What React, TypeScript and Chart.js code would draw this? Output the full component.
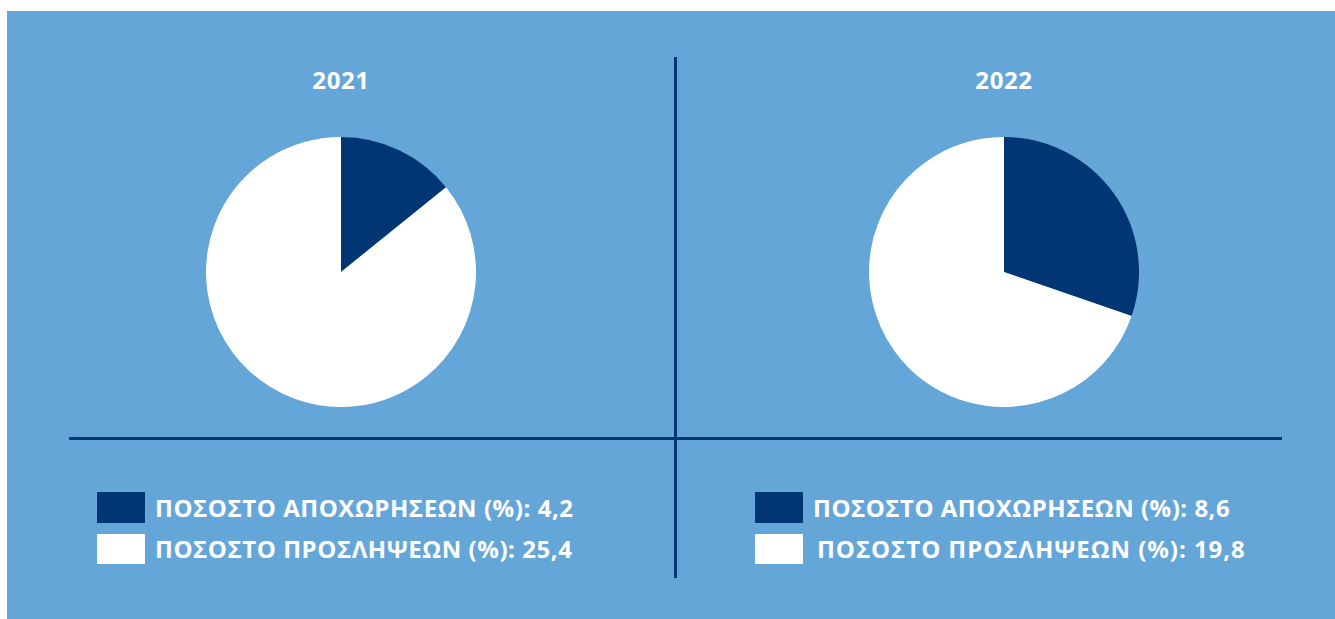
import React, { useEffect, useRef } from "react";
import { Chart, registerables } from "chart.js";

Chart.register(...registerables);

const years = ["2021", "2022"];
const categories = ["ΠΟΣΟΣΤΟ ΑΠΟΧΩΡΗΣΕΩΝ (%)", "ΠΟΣΟΣΤΟ ΠΡΟΣΛΗΨΕΩΝ (%)"];
const values2021 = [4.2, 25.4];
const values2022 = [8.6, 19.8];
const valueLabels2021 = ["4,2", "25,4"];
const valueLabels2022 = ["8,6", "19,8"];
const sliceColors = ["#003674", "#FFFFFF"];

const BG = "#65A6D9";
const NAVY = "#003674";
const FONT = "'Open Sans', 'DejaVu Sans', sans-serif";

function Pie({ values }: { values: number[] }) {
  const ref = useRef<HTMLCanvasElement | null>(null);
  useEffect(() => {
    if (!ref.current) return;
    const chart = new Chart(ref.current, {
      type: "pie",
      data: {
        labels: categories,
        datasets: [
          {
            data: values,
            backgroundColor: sliceColors,
            borderWidth: 0,
          },
        ],
      },
      options: {
        animation: false,
        responsive: true,
        maintainAspectRatio: false,
        layout: { padding: 0 },
        plugins: {
          legend: { display: false },
          tooltip: { enabled: false },
          title: { display: false },
        },
      },
    });
    return () => chart.destroy();
  }, [values]);
  return <canvas ref={ref} />;
}

function Legend({
  labels,
  left,
  textOffsets,
  spacings,
}: {
  labels: string[];
  left: number;
  textOffsets: number[];
  spacings: number[];
}) {
  return (
    <>
      {categories.map((c, i) => (
        <div
          key={c}
          style={{
            position: "absolute",
            left,
            top: i === 0 ? 481 : 522,
            height: 31,
            display: "flex",
            alignItems: "center",
            whiteSpace: "nowrap",
          }}
        >
          <div
            style={{
              width: 48,
              height: i === 0 ? 31 : 30,
              background: sliceColors[i],
              flex: "0 0 auto",
            }}
          />
          <span
            style={{
              marginLeft: textOffsets[i],
              color: "#FFFFFF",
              fontFamily: FONT,
              fontWeight: 700,
              fontSize: 24,
              letterSpacing: spacings[i],
              lineHeight: "31px",
            }}
          >
            {c}: {labels[i]}
          </span>
        </div>
      ))}
    </>
  );
}

export default function App() {
  const ox = 7;
  const oy = 11;
  return (
    <div
      style={{
        position: "absolute",
        left: ox,
        top: oy,
        width: 1335 - ox,
        height: 619 - oy,
        background: BG,
        overflow: "hidden",
      }}
    >
      {years.map((y, i) => (
        <div
          key={y}
          style={{
            position: "absolute",
            left: (i === 0 ? 341 : 1004) - ox - 100,
            width: 200,
            top: 80 - oy - 15,
            height: 30,
            lineHeight: "30px",
            textAlign: "center",
            color: "#FFFFFF",
            fontFamily: FONT,
            fontWeight: 700,
            fontSize: 24,
            letterSpacing: 0.6,
          }}
        >
          {y}
        </div>
      ))}

      <div
        style={{
          position: "absolute",
          left: 341 - 135 - ox,
          top: 272 - 135 - oy,
          width: 270,
          height: 270,
        }}
      >
        <Pie values={values2021} />
      </div>
      <div
        style={{
          position: "absolute",
          left: 1004 - 135 - ox,
          top: 272 - 135 - oy,
          width: 270,
          height: 270,
        }}
      >
        <Pie values={values2022} />
      </div>

      <div
        style={{
          position: "absolute",
          left: 674 - ox,
          top: 57 - oy,
          width: 3,
          height: 578 - 57,
          background: NAVY,
        }}
      />
      <div
        style={{
          position: "absolute",
          left: 69 - ox,
          top: 437 - oy,
          width: 1282 - 69,
          height: 3,
          background: NAVY,
        }}
      />

      <Legend
        labels={valueLabels2021}
        left={97 - ox}
        textOffsets={[10, 10]}
        spacings={[0.55, 0.55]}
      />
      <Legend
        labels={valueLabels2022}
        left={755 - ox}
        textOffsets={[10, 14]}
        spacings={[0.5, 0.95]}
      />
    </div>
  );
}
